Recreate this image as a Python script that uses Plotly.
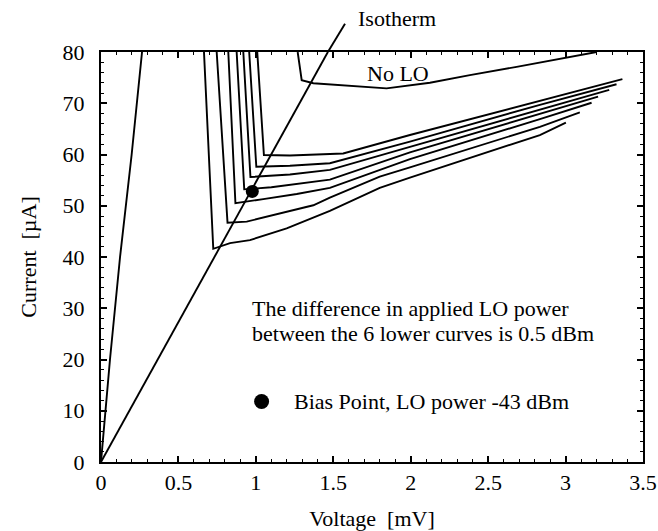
import plotly.graph_objects as go

# ---------------- data ----------------
# steep superconducting branch near V = 0
steep_V = [0.0, 0.058, 0.123, 0.198, 0.265]
steep_I = [0.0, 20.0, 40.0, 60.0, 80.0]

# isotherm line (through origin)
iso_V = [0.0, 1.465]
iso_I = [0.0, 80.0]
iso_label_I = 85.5  # where the leader line ends above the frame

# I-V curve without LO
nolo_V = [1.27, 1.296, 1.371, 1.52, 1.844, 2.124, 2.382, 2.684, 2.985, 3.20]
nolo_I = [80.0, 74.5, 73.9, 73.6, 72.9, 74.0, 75.5, 77.1, 78.8, 80.0]

# pumped I-V curves (bottom -> top)
c1_V = [0.665, 0.725, 0.833, 0.962, 1.199, 1.478, 1.80, 1.995, 2.834, 3.002]
c1_I = [80.0, 41.6, 42.7, 43.3, 45.6, 49.0, 53.5, 55.5, 63.8, 66.2]
c2_V = [0.747, 0.817, 0.941, 1.156, 1.371, 1.478, 1.80, 1.995, 2.834, 3.092]
c2_I = [80.0, 46.7, 46.9, 48.5, 50.1, 51.6, 55.7, 57.5, 65.4, 68.2]
c3_V = [0.822, 0.868, 1.048, 1.264, 1.478, 1.995, 2.834, 3.168]
c3_I = [80.0, 50.5, 51.3, 52.3, 53.5, 59.1, 66.9, 70.1]
c4_V = [0.876, 0.925, 1.10, 1.30, 1.478, 1.995, 2.834, 3.21]
c4_I = [80.0, 53.2, 53.6, 54.4, 55.1, 60.4, 67.9, 71.3]
c5_V = [0.919, 0.965, 1.22, 1.478, 1.995, 2.834, 3.282]
c5_I = [80.0, 55.6, 56.1, 57.0, 61.5, 68.8, 72.6]
c6_V = [0.957, 1.003, 1.22, 1.478, 1.995, 2.834, 3.329]
c6_I = [80.0, 57.6, 57.8, 58.3, 62.5, 69.7, 73.7]
c7_V = [1.009, 1.052, 1.22, 1.564, 1.995, 2.834, 3.367]
c7_I = [80.0, 59.9, 59.8, 60.2, 63.8, 70.5, 74.7]

# bias point and its key symbol
bias_V = [0.977]
bias_I = [52.8]
key_V = [1.037]
key_I = [11.8]

x_ticks = [0, 0.5, 1, 1.5, 2, 2.5, 3, 3.5]
x_ticklabels = ["0", "0.5", "1", "1.5", "2", "2.5", "3", "3.5"]
y_ticks = [0, 10, 20, 30, 40, 50, 60, 70, 80]
y_ticklabels = ["0", "10", "20", "30", "40", "50", "60", "70", "80"]

Y_MAX = 80.0

# ---------------- figure ----------------
FONT = "Liberation Serif, Times New Roman, serif"
LW = 1.9

fig = go.Figure()

def add_line(xs, ys):
    fig.add_trace(go.Scatter(x=xs, y=ys, mode="lines",
                             line=dict(color="black", width=LW),
                             showlegend=False, hoverinfo="skip"))

add_line(steep_V, steep_I)
add_line(iso_V, iso_I)
add_line(nolo_V, nolo_I)
for xs, ys in [(c1_V, c1_I), (c2_V, c2_I), (c3_V, c3_I), (c4_V, c4_I),
               (c5_V, c5_I), (c6_V, c6_I), (c7_V, c7_I)]:
    add_line(xs, ys)

fig.add_trace(go.Scatter(x=bias_V, y=bias_I, mode="markers",
                         marker=dict(color="black", size=13),
                         showlegend=False, hoverinfo="skip"))
fig.add_trace(go.Scatter(x=key_V, y=key_I, mode="markers",
                         marker=dict(color="black", size=15),
                         showlegend=False, hoverinfo="skip", cliponaxis=False))

# isotherm leader line above the frame
iso_slope = iso_I[-1] / iso_V[-1]
fig.add_shape(type="line", xref="x", yref="paper",
              x0=iso_V[-1], y0=iso_I[-1] / Y_MAX,
              x1=iso_label_I / iso_slope + 0.01, y1=iso_label_I / Y_MAX,
              line=dict(color="black", width=LW))

tf = dict(family=FONT, size=22, color="black")
fig.add_annotation(x=1.911, y=86.6 / Y_MAX, xref="x", yref="paper", text="Isotherm",
                   showarrow=False, font=tf, xanchor="center", yanchor="middle")
fig.add_annotation(x=1.918, y=75.9, xref="x", yref="y", text="No LO",
                   showarrow=False, font=tf, xanchor="center", yanchor="middle")
fig.add_annotation(x=0.962, y=30.0, xref="x", yref="y",
                   text="The difference in applied LO power",
                   showarrow=False, font=tf, xanchor="left", yanchor="middle")
fig.add_annotation(x=0.962, y=25.1, xref="x", yref="y",
                   text="between the 6 lower curves is 0.5 dBm",
                   showarrow=False, font=tf, xanchor="left", yanchor="middle")
fig.add_annotation(x=1.233, y=11.9, xref="x", yref="y",
                   text="Bias Point, LO power -43 dBm",
                   showarrow=False, font=tf, xanchor="left", yanchor="middle")

axis_common = dict(
    showline=True, linecolor="black", linewidth=2, mirror="ticks",
    ticks="inside", ticklen=6, tickwidth=1.5, tickcolor="black",
    showgrid=False, zeroline=False, automargin=False,
    tickfont=dict(family=FONT, size=22, color="black"),
)

fig.update_xaxes(range=[0, 3.5], tickvals=x_ticks, ticktext=x_ticklabels,
                 minor=dict(ticks="inside", ticklen=3, dtick=0.1,
                            tickcolor="black", tickwidth=1.2),
                 ticklabelstandoff=0,
                 title=dict(text="Voltage  [mV]", font=tf, standoff=22),
                 **axis_common)
fig.update_yaxes(range=[0, Y_MAX], tickvals=y_ticks, ticktext=y_ticklabels,
                 minor=dict(ticks="inside", ticklen=3, dtick=2,
                            tickcolor="black", tickwidth=1.2),
                 ticklabelstandoff=10,
                 title=dict(text="Current  [µA]", font=tf, standoff=20),
                 **axis_common)

fig.update_layout(
    width=658, height=531,
    margin=dict(l=101, r=15, t=52, b=69),
    plot_bgcolor="white", paper_bgcolor="white",
    showlegend=False,
)

fig.write_html("out.html")
